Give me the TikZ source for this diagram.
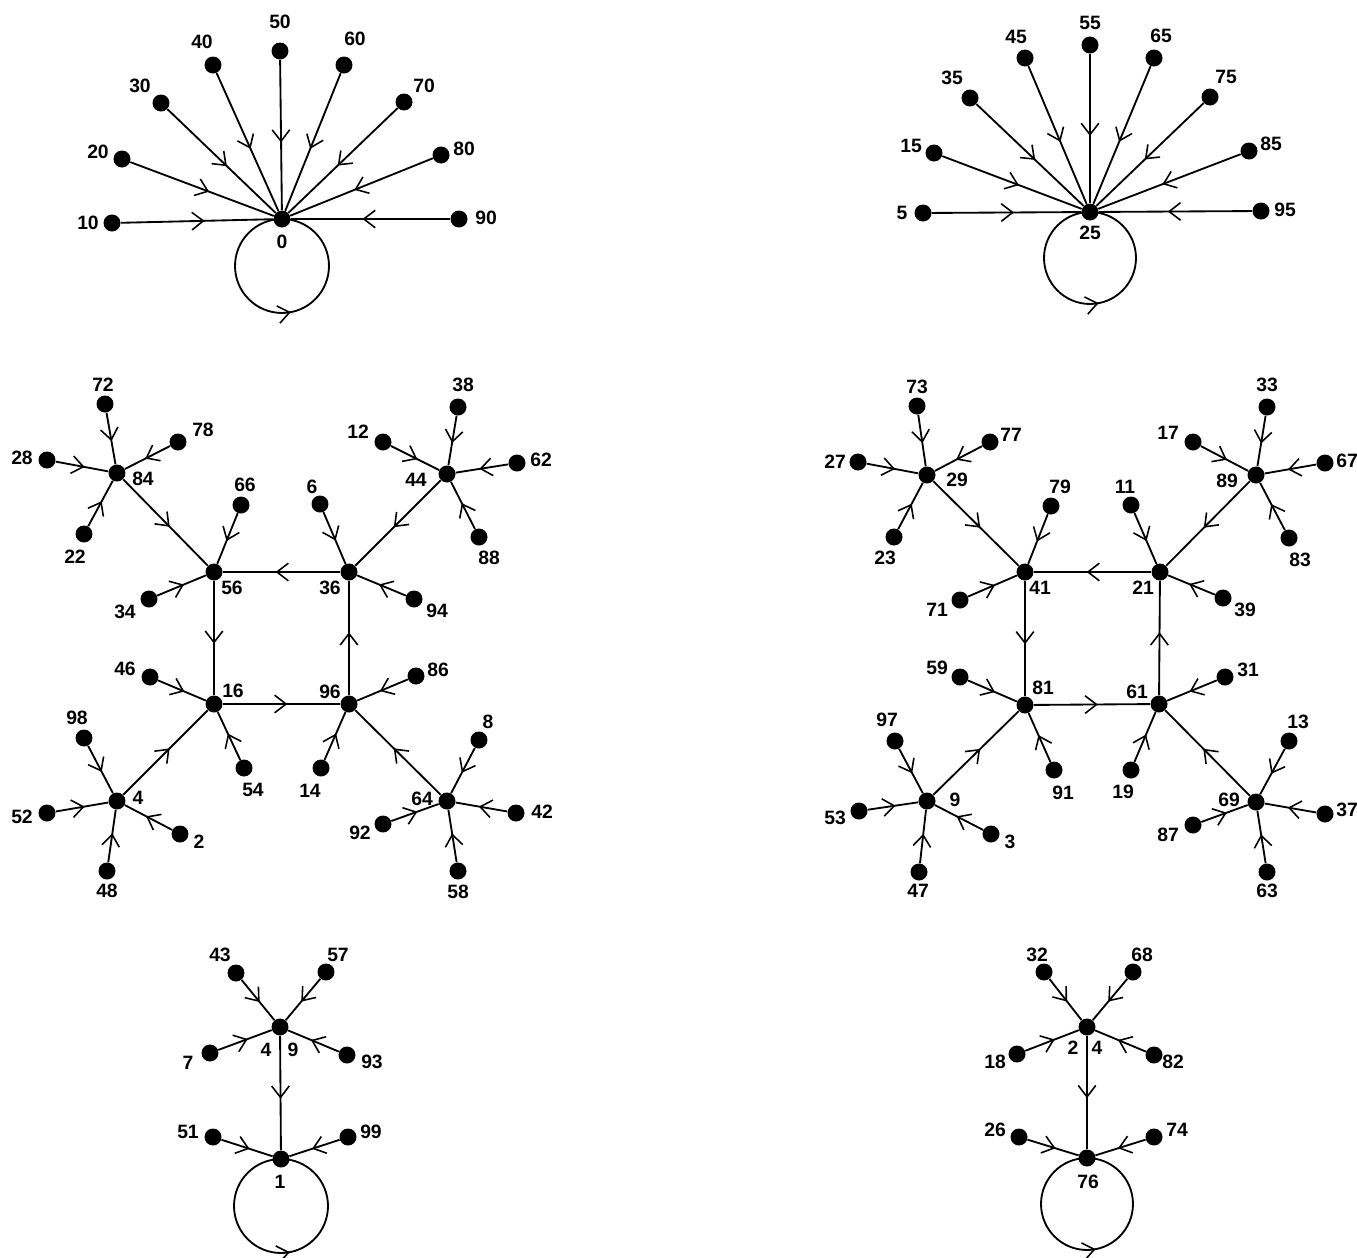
\documentclass[tikz,border=0pt]{standalone}
\usepackage{fontspec}
\setmainfont{Liberation Sans}
\usetikzlibrary{arrows.meta,decorations.markings}
\tikzset{
  dot/.style={circle,fill=black,inner sep=0pt,minimum size=3.4mm},
  lbl/.style={inner sep=0pt,font=\bfseries\fontsize{11}{13}\selectfont},
  arr/.style={draw,line width=1.05pt,postaction={decorate},
    decoration={markings,mark=at position 0.55 with {\arrow{Straight Barb[length=6.5pt,width=10pt,line width=0.9pt]}}}},
  loopy/.style={draw,line width=1.05pt,postaction={decorate},
    decoration={markings,mark=at position 0.53 with {\arrow{Straight Barb[length=6.5pt,width=10pt,line width=0.9pt]}}}}
}
\begin{document}
\begin{tikzpicture}[x=0.02cm,y=-0.02cm]
\useasboundingbox (0,0) rectangle (1357,1258);
% ---------- nodes ----------
\foreach \n/\x/\y in {
 0/282/219,10/112/223,20/122/159,30/161/103,40/213/65,50/280/51,60/344/65,70/404/102,80/441/155,90/459/219,
 25/1090/212,5/923/213,15/934/153,35/970/98,45/1025/58,55/1090/45,65/1154/58,75/1210/97,85/1249/151,95/1261/211,
 84/117/473,72/105/404,78/178/442,28/47/460,22/84/534,66/241/505,56/214/572,34/149/599,16/214/704,46/150/677,
 98/84/738,4/117/801,52/47/813,2/180/834,48/107/871,54/244/768,
 44/447/474,38/458/407,12/383/442,62/517/463,88/479/537,6/320/504,36/349/572,94/414/599,96/349/704,86/416/676,
 14/321/768,64/447/801,8/479/740,42/516/813,92/383/824,58/458/871,
 29/927/475,73/917/406,77/990/442,27/858/462,23/894/537,41/1025/572,79/1051/506,71/960/600,81/1025/705,59/960/677,
 91/1054/770,9/927/801,97/895/741,53/859/811,3/991/834,47/919/872,
 89/1256/475,33/1267/407,17/1193/442,67/1325/463,83/1289/538,11/1131/505,21/1160/572,39/1223/598,61/1159/704,31/1225/677,
 19/1131/770,69/1256/802,13/1289/741,37/1325/814,87/1193/825,63/1267/872,
 1/281/1159,49/280/1027,43/236/973,57/326/972,7/210/1053,93/347/1055,51/213/1137,99/348/1137,
 76/1087/1158,24/1087/1027,32/1044/972,68/1133/972,18/1017/1054,82/1154/1055,26/1019/1137,74/1154/1137}
 \node[dot] (n\n) at (\x,\y) {};
% ---------- labels ----------
\foreach \n/\x/\y in {
 0/282/242,10/88/223,20/98/152,30/140/86,40/202/42,50/280/22,60/355/39,70/424/86,80/464/149,90/486/218,
 25/1090/233,5/902/213,15/911/146,35/952/78,45/1016/37,55/1090/23,65/1161/36,75/1226/77,85/1271/144,95/1285/210,
 72/103/385,78/203/430,28/22/458,84/143/479,22/75/557,66/245/485,56/232/588,34/125/612,46/125/669,16/233/691,
 98/77/718,4/138/798,52/22/817,2/199/842,48/107/891,54/253/790,
 38/463/385,12/358/432,62/541/460,44/416/480,88/489/558,6/312/487,36/330/588,94/437/611,86/438/670,96/330/692,
 8/488/722,14/310/791,64/422/799,42/542/812,92/360/833,58/458/892,
 73/917/387,77/1011/435,27/835/462,29/957/480,23/885/558,79/1060/487,41/1040/588,71/937/610,59/937/668,81/1043/688,
 97/887/720,9/955/800,53/835/818,3/1010/842,47/918/891,91/1063/793,
 33/1267/385,17/1168/433,67/1347/461,89/1227/481,11/1125/487,83/1300/560,21/1143/588,39/1245/610,31/1248/670,61/1137/692,
 13/1298/722,19/1123/792,69/1229/800,37/1347/810,87/1168/835,63/1267/891,
 43/220/955,57/338/955,7/188/1063,93/372/1062,51/188/1132,99/371/1132,1/280/1182,
 32/1037/955,68/1142/955,18/995/1062,82/1173/1062,26/995/1130,74/1177/1130,76/1088/1182}
 \node[lbl] (t\n) at (\x,\y) {\n};
\node[lbl] (t49a) at (266,1050) {4};
\node[lbl] (t49b) at (293,1050) {9};
\node[lbl] (t24a) at (1073,1048) {2};
\node[lbl] (t24b) at (1097,1048) {4};
% ---------- edges ----------
\foreach \a/\b in {
 10/0,20/0,30/0,40/0,50/0,60/0,70/0,80/0,90/0,
 5/25,15/25,35/25,45/25,55/25,65/25,75/25,85/25,95/25,
 72/84,78/84,28/84,22/84,84/56,66/56,34/56,
 38/44,12/44,62/44,88/44,44/36,6/36,94/36,
 36/56,56/16,16/96,96/36,
 46/16,54/16,4/16,98/4,52/4,48/4,2/4,
 86/96,14/96,64/96,8/64,42/64,58/64,92/64,
 73/29,77/29,27/29,23/29,29/41,79/41,71/41,
 33/89,17/89,67/89,83/89,89/21,11/21,39/21,
 21/41,41/81,81/61,61/21,
 59/81,91/81,9/81,97/9,53/9,47/9,3/9,
 31/61,19/61,69/61,13/69,37/69,63/69,87/69,
 43/49,57/49,7/49,93/49,49/1,51/1,99/1,
 32/24,68/24,18/24,82/24,24/76,26/76,74/76}
 \draw[arr] (n\a) -- (n\b);
% ---------- loops ----------
\draw[loopy] (n0.center) arc[start angle=90,end angle=450,radius=0.94cm];
\draw[loopy] (n25.center) arc[start angle=90,end angle=450,radius=0.92cm];
\draw[loopy] (n1.center) arc[start angle=90,end angle=450,radius=0.94cm];
\draw[loopy] (n76.center) arc[start angle=90,end angle=450,radius=0.92cm];
\end{tikzpicture}
\end{document}
